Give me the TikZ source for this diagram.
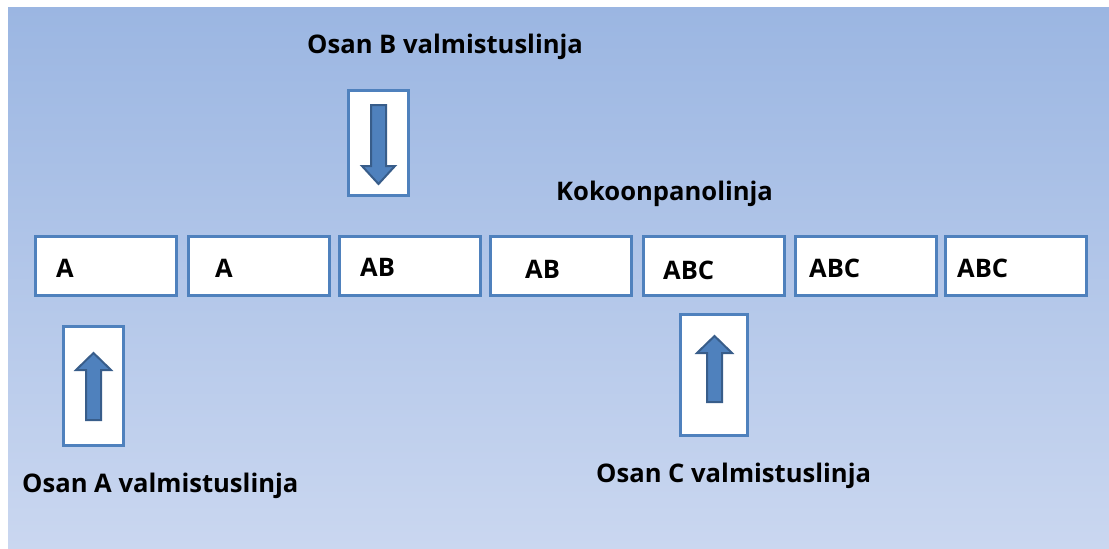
\documentclass[tikz,border=0pt]{standalone}
\usepackage{fontspec}
\setmainfont{Open Sans}[BoldFont={Open Sans Bold}]
\definecolor{bgtop}{RGB}{155,182,226}
\definecolor{bgbot}{RGB}{202,215,240}
\definecolor{boxline}{RGB}{79,129,189}
\definecolor{arrfill}{RGB}{79,129,189}
\definecolor{arrline}{RGB}{56,93,138}
\begin{document}
\begin{tikzpicture}[x=1pt,y=-1pt,
  lane/.style={draw=boxline, line width=3pt, fill=white, minimum width=141pt, minimum height=59pt, inner sep=0pt},
  feed/.style={draw=boxline, line width=3pt, fill=white, inner sep=0pt},
  lbl/.style={font=\fontsize{25.5}{28}\selectfont\bfseries, anchor=base west, inner sep=0pt},
  head/.style={font=\fontsize{25.6}{29}\selectfont\bfseries, anchor=base west, inner sep=0pt},
  blockarrow/.style={draw=arrline, line width=2pt, fill=arrfill, line join=miter}]
\useasboundingbox (0,0) rectangle (1109,549);
\shade[top color=bgtop, bottom color=bgbot] (8,7) rectangle (1109,549);
% assembly line boxes
\node[lane] (l1) at (106,266) {};
\node[lane] (l2) at (258.5,266) {};
\node[lane] (l3) at (409.5,266) {};
\node[lane] (l4) at (560.5,266) {};
\node[lane] (l5) at (713.5,266) {};
\node[lane] (l6) at (865.5,266) {};
\node[lane] (l7) at (1015.5,266) {};
\node[lbl] (t1) at (56,277) {A};
\node[lbl] (t2) at (215,277) {A};
\node[lbl] (t3) at (360,276) {AB};
\node[lbl] (t4) at (525,278) {AB};
\node[lbl] (t5) at (663,279) {ABC};
\node[lbl] (t6) at (809,277) {ABC};
\node[lbl] (t7) at (957,277) {ABC};
% feed boxes
\node[feed, minimum width=60pt, minimum height=105pt] (fb) at (378.5,143) {};
\node[feed, minimum width=60pt, minimum height=119pt] (fa) at (93.5,386) {};
\node[feed, minimum width=67pt, minimum height=121pt] (fc) at (714,375) {};
% block arrows
\draw[blockarrow] (371,105) -- (386,105) -- (386,166) -- (395,166) -- (378.5,184) -- (362,166) -- (371,166) -- cycle;
\draw[blockarrow] (86,420) -- (101,420) -- (101,370) -- (111,370) -- (93.5,353) -- (76,370) -- (86,370) -- cycle;
\draw[blockarrow] (707,402) -- (722,402) -- (722,353) -- (732,353) -- (714.5,336) -- (697,353) -- (707,353) -- cycle;
% headings
\node[head] (hb) at (307,53) {Osan B valmistuslinja};
\node[head] (hk) at (556,200) {Kokoonpanolinja};
\node[head] (ha) at (22,492) {Osan A valmistuslinja};
\node[head] (hc) at (596,482) {Osan C valmistuslinja};
\end{tikzpicture}
\end{document}
